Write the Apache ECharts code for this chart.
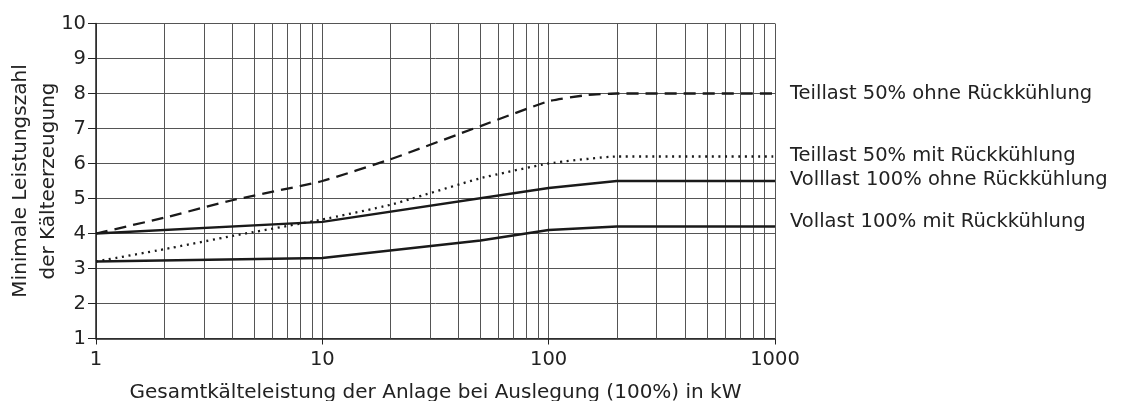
<!DOCTYPE html>
<html>
<head>
<meta charset="utf-8">
<script src="https://cdn.jsdelivr.net/npm/echarts@6/dist/echarts.min.js"></script>
<style>html,body{margin:0;padding:0;background:#fff;}#c{width:1125px;height:401px;}</style>
</head>
<body>
<div id="c"></div>
<script>
// Data
const seriesNames = [
  'Teillast 50% ohne Rückkühlung',
  'Teillast 50% mit Rückkühlung',
  'Volllast 100% ohne Rückkühlung',
  'Vollast 100% mit Rückkühlung'
];
const teilOhneX = [1, 2, 4, 10, 20, 50, 100, 150, 200, 1000];
const teilOhneY = [4.0, 4.45, 4.95, 5.5, 6.12, 7.07, 7.78, 7.96, 8.0, 8.0];
const teilMitX = [1, 2, 4, 10, 20, 50, 100, 200, 1000];
const teilMitY = [3.2, 3.55, 3.93, 4.4, 4.82, 5.58, 6.0, 6.2, 6.2];
const vollOhneX = [1, 10, 100, 200, 1000];
const vollOhneY = [4.0, 4.33, 5.3, 5.5, 5.5];
const vollMitX = [1, 10, 50, 100, 200, 1000];
const vollMitY = [3.2, 3.3, 3.8, 4.1, 4.2, 4.2];
const minorGridX = [2,3,4,5,6,7,8,9,20,30,40,50,60,70,80,90,200,300,400,500,600,700,800,900];

const pairs = (xs, ys) => xs.map((x, i) => [x, ys[i]]);
const FONT = 'DejaVu Sans';
const TXT = '#222';

const chart = echarts.init(document.getElementById('c'), null, {renderer: 'canvas'});
const baseLabel = (offset) => ({
  show: true, formatter: '{a}', distance: 15, fontSize: 19.5, fontFamily: FONT, color: TXT, offset: offset
});
chart.setOption({
  animation: false,
  backgroundColor: '#fff',
  grid: {left: 96, right: 350, top: 23.5, bottom: 62.5, containLabel: false, outerBoundsMode: 'none'},
  xAxis: {
    type: 'log', logBase: 10, min: 1, max: 1000,
    name: 'Gesamtkälteleistung der Anlage bei Auslegung (100%) in kW',
    nameLocation: 'middle', nameGap: 44, nameMoveOverlap: false,
    nameTextStyle: {fontSize: 20, fontFamily: FONT, color: TXT},
    axisLine: {lineStyle: {color: '#222', width: 1.5}},
    axisTick: {show: true, length: 6, lineStyle: {color: '#222'}},
    axisLabel: {fontSize: 19.5, fontFamily: FONT, color: TXT, margin: 11, formatter: v => String(Math.round(v))},
    splitLine: {show: true, lineStyle: {color: '#555', width: 1}},
    minorTick: {show: false}, minorSplitLine: {show: false}
  },
  yAxis: {
    type: 'value', min: 1, max: 10, interval: 1,
    name: 'Minimale Leistungszahl\nder Kälteerzeugung',
    nameLocation: 'middle', nameGap: 33, nameMoveOverlap: false,
    nameTextStyle: {fontSize: 20, fontFamily: FONT, color: TXT, lineHeight: 28},
    axisLine: {show: true, lineStyle: {color: '#222', width: 1.5}},
    axisTick: {show: true, length: 8, lineStyle: {color: '#222'}},
    axisLabel: {fontSize: 19.5, fontFamily: FONT, color: TXT, margin: 10},
    splitLine: {show: true, lineStyle: {color: '#555', width: 1}}
  },
  series: [
    {
      name: seriesNames[0], type: 'line', data: pairs(teilOhneX, teilOhneY),
      showSymbol: false, smooth: 0.15, silent: true,
      lineStyle: {color: '#1a1a1a', width: 2.3, type: [12, 7]},
      endLabel: baseLabel([0, 0]),
      markLine: {
        silent: true, symbol: 'none', label: {show: false},
        lineStyle: {color: '#555', width: 1, type: 'solid'},
        data: minorGridX.map(v => ({xAxis: v}))
      },
      z: 5
    },
    {
      name: seriesNames[1], type: 'line', data: pairs(teilMitX, teilMitY),
      showSymbol: false, smooth: 0.15, silent: true,
      lineStyle: {color: '#1a1a1a', width: 2.3, type: [2, 4.6]},
      endLabel: baseLabel([0, -1]), z: 5
    },
    {
      name: seriesNames[2], type: 'line', data: pairs(vollOhneX, vollOhneY),
      showSymbol: false, silent: true,
      lineStyle: {color: '#1a1a1a', width: 2.3},
      endLabel: baseLabel([0, -1]), z: 5
    },
    {
      name: seriesNames[3], type: 'line', data: pairs(vollMitX, vollMitY),
      showSymbol: false, silent: true,
      lineStyle: {color: '#1a1a1a', width: 2.3},
      endLabel: baseLabel([0, -5]), z: 5
    }
  ]
});
</script>
</body>
</html>
